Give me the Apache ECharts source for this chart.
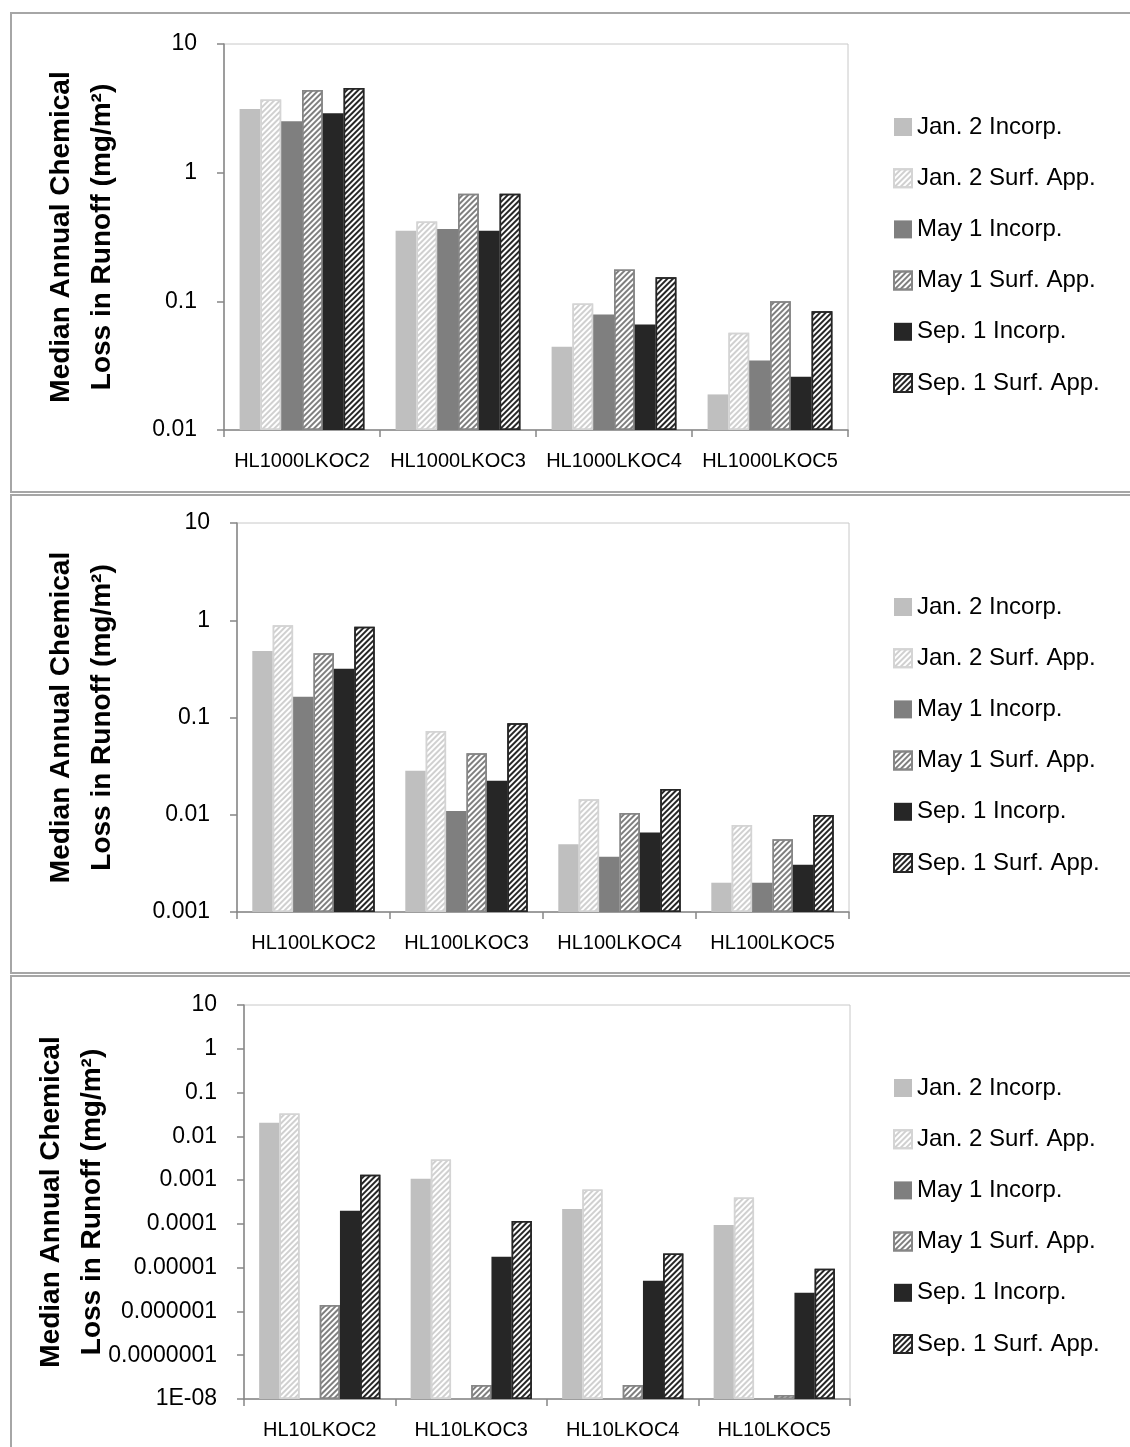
<!DOCTYPE html>
<html><head><meta charset="utf-8">
<script src="https://cdn.jsdelivr.net/npm/echarts@6/dist/echarts.min.js"></script>
<style>html,body{margin:0;padding:0;background:#fff}#c{width:1130px;height:1447px}</style>
</head><body><div id="c"></div>
<script>
// ---------- data ----------
const seriesNames = ['Jan. 2 Incorp.', 'Jan. 2 Surf. App.', 'May 1 Incorp.', 'May 1 Surf. App.', 'Sep. 1 Incorp.', 'Sep. 1 Surf. App.'];

const categories1 = ['HL1000LKOC2', 'HL1000LKOC3', 'HL1000LKOC4', 'HL1000LKOC5'];
const categories2 = ['HL100LKOC2', 'HL100LKOC3', 'HL100LKOC4', 'HL100LKOC5'];
const categories3 = ['HL10LKOC2', 'HL10LKOC3', 'HL10LKOC4', 'HL10LKOC5'];

// panel 1 (HL1000)
const jan2Inc1  = [3.13, 0.354, 0.0443, 0.0189];
const jan2Surf1 = [3.70, 0.418, 0.096, 0.057];
const may1Inc1  = [2.51, 0.365, 0.079, 0.0347];
const may1Surf1 = [4.40, 0.686, 0.177, 0.100];
const sep1Inc1  = [2.90, 0.354, 0.066, 0.0259];
const sep1Surf1 = [4.55, 0.686, 0.154, 0.0838];

// panel 2 (HL100)
const jan2Inc2  = [0.484, 0.0284, 0.00497, 0.0020];
const jan2Surf2 = [0.89, 0.0728, 0.0144, 0.00785];
const may1Inc2  = [0.163, 0.0109, 0.0037, 0.0020];
const may1Surf2 = [0.459, 0.043, 0.0104, 0.0056];
const sep1Inc2  = [0.318, 0.0224, 0.00655, 0.00307];
const sep1Surf2 = [0.855, 0.0874, 0.0184, 0.00995];

// panel 3 (HL10)
const jan2Inc3  = [0.0203, 0.00107, 0.00022, 0.000094];
const jan2Surf3 = [0.0333, 0.00296, 0.00061, 0.00040];
const may1Inc3  = [null, null, null, null];
const may1Surf3 = [1.4e-6, 2.1e-8, 2.1e-8, 1.23e-8];
const sep1Inc3  = [1.99e-4, 1.77e-5, 5.0e-6, 2.67e-6];
const sep1Surf3 = [1.32e-3, 1.16e-4, 2.1e-5, 9.4e-6];

// y tick labels (from the lowest decade upwards)
const yTicks1 = ['0.01', '0.1', '1', '10'];
const yTicks2 = ['0.001', '0.01', '0.1', '1', '10'];
const yTicks3 = ['1E-08', '0.0000001', '0.000001', '0.00001', '0.0001', '0.001', '0.01', '0.1', '1', '10'];
const yMinExp1 = -2, yMinExp2 = -3, yMinExp3 = -8;

const yTitle = 'Median Annual Chemical\nLoss in Runoff (mg/m²)';

// ---------- styles ----------
const FONT = 'Liberation Sans, Arial, sans-serif';
function stripes(c) {
  return { symbol: 'rect', symbolSize: 1, dashArrayX: [1, 0], dashArrayY: [2, 2], rotation: -Math.PI / 4, color: c };
}
const itemStyles = [
  { color: '#bfbfbf' },
  { color: '#ffffff', borderColor: '#d4d4d4', borderWidth: 1.5, decal: stripes('#d0d0d0') },
  { color: '#7f7f7f' },
  { color: '#ffffff', borderColor: '#868686', borderWidth: 1.5, decal: stripes('#7f7f7f') },
  { color: '#262626' },
  { color: '#ffffff', borderColor: '#262626', borderWidth: 1.5, decal: stripes('#262626') }
];

const panels = [
  { cats: categories1, data: [jan2Inc1, jan2Surf1, may1Inc1, may1Surf1, sep1Inc1, sep1Surf1], ticks: yTicks1, minExp: yMinExp1,
    grid: { left: 224, top: 44, width: 624, height: 386 }, nameGap: 101, legendTop: 115 },
  { cats: categories2, data: [jan2Inc2, jan2Surf2, may1Inc2, may1Surf2, sep1Inc2, sep1Surf2], ticks: yTicks2, minExp: yMinExp2,
    grid: { left: 237, top: 523, width: 612, height: 389 }, nameGap: 114, legendTop: 595 },
  { cats: categories3, data: [jan2Inc3, jan2Surf3, may1Inc3, may1Surf3, sep1Inc3, sep1Surf3], ticks: yTicks3, minExp: yMinExp3,
    grid: { left: 244, top: 1005, width: 606, height: 394 }, nameGap: 131, legendTop: 1076 }
];

const grids = [], xAxes = [], yAxes = [], series = [], legends = [];
panels.forEach((p, i) => {
  grids.push(Object.assign({ show: true, borderColor: '#c8c8c8', borderWidth: 1, backgroundColor: 'transparent' }, p.grid));
  xAxes.push({
    type: 'category', gridIndex: i, data: p.cats,
    axisLine: { lineStyle: { color: '#868686', width: 1.5 } },
    axisTick: { show: true, length: 7, lineStyle: { color: '#868686', width: 1.5 } },
    axisLabel: { interval: 0, margin: 21, fontSize: 20, color: '#000', fontFamily: FONT },
    splitLine: { show: false }
  });
  const minV = Math.pow(10, p.minExp);
  yAxes.push({
    type: 'log', logBase: 10, gridIndex: i, min: minV, max: 10, interval: 1, startValue: minV,
    name: yTitle, nameLocation: 'middle', nameRotate: 90, nameGap: p.nameGap, nameMoveOverlap: false,
    nameTextStyle: { fontSize: 28, fontWeight: 'bold', lineHeight: 41, color: '#000', fontFamily: FONT },
    axisLine: { show: true, lineStyle: { color: '#868686', width: 1.5 } },
    axisTick: { show: true, length: 7, inside: false, lineStyle: { color: '#868686', width: 1.5 } },
    minorTick: { show: false },
    splitLine: { show: false },
    axisLabel: {
      margin: 27, fontSize: 23, color: '#000', fontFamily: FONT,
      formatter: (v) => p.ticks[Math.round(Math.log10(v)) - p.minExp]
    }
  });
  seriesNames.forEach((n, k) => {
    series.push({
      type: 'bar', name: n, xAxisIndex: i, yAxisIndex: i,
      data: p.data[k], barGap: '0%', barCategoryGap: '20%',
      itemStyle: itemStyles[k], emphasis: { disabled: true }
    });
  });
  legends.push({
    orient: 'vertical', left: 893, top: p.legendTop, padding: 0, icon: 'rect',
    itemWidth: 18, itemHeight: 18, itemGap: 27.2,
    textStyle: { fontSize: 24, lineHeight: 24, color: '#000', fontFamily: FONT },
    data: seriesNames, selectedMode: false
  });
});

const frame = (y, h) => ({
  type: 'rect', silent: true, z: -10,
  shape: { x: 11, y: y, width: 1140, height: h },
  style: { fill: 'none', stroke: '#a6a6a6', lineWidth: 2 }
});

const chart = echarts.init(document.getElementById('c'), null, { renderer: 'canvas' });
chart.setOption({
  animation: false,
  backgroundColor: '#ffffff',
  grid: grids, xAxis: xAxes, yAxis: yAxes, series: series, legend: legends,
  graphic: [frame(13, 479), frame(495, 478), frame(976, 490)]
});
</script></body></html>
